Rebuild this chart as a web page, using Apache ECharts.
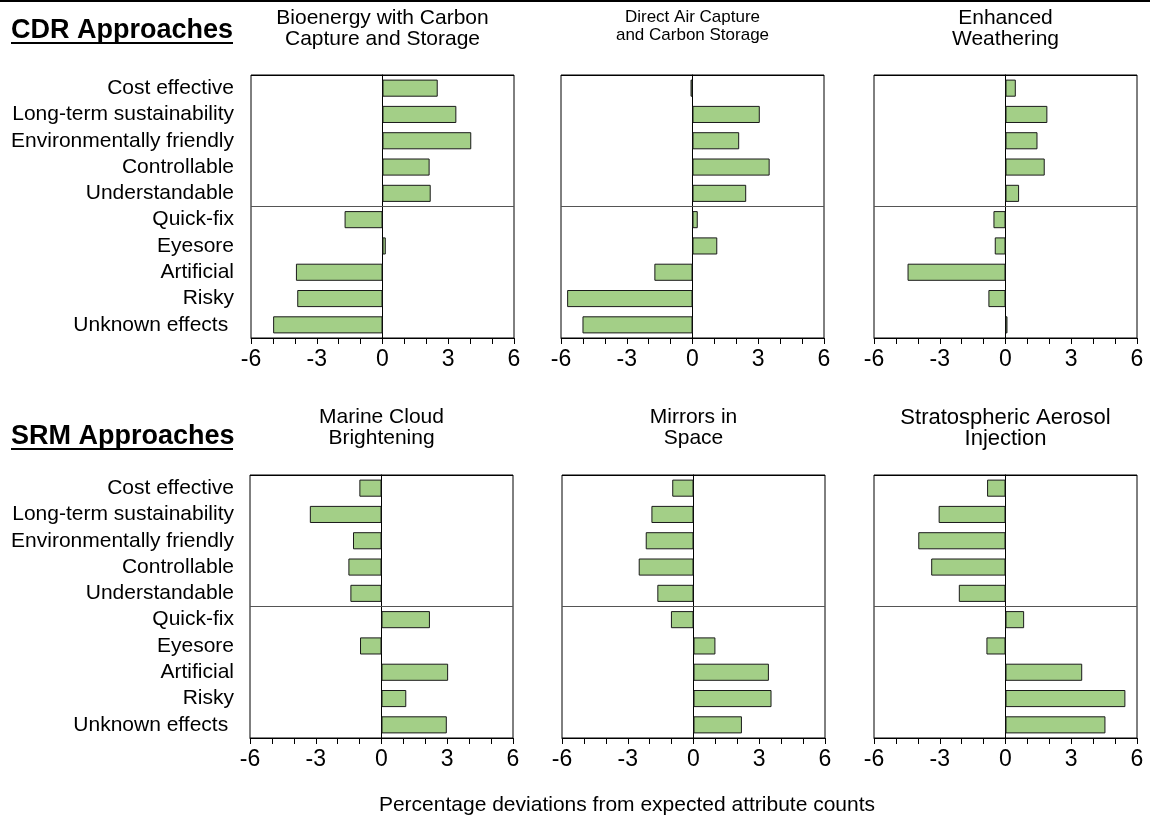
<!DOCTYPE html>
<html>
<head>
<meta charset="utf-8">
<script src="https://cdn.jsdelivr.net/npm/echarts@6/dist/echarts.min.js"></script>
<style>
  html, body { margin: 0; padding: 0; background: #fff; }
  #main { width: 1150px; height: 820px; }
</style>
</head>
<body>
<div id="main"></div>
<script>
// attribute categories (top to bottom)
var categories = ['Cost effective', 'Long-term sustainability', 'Environmentally friendly',
    'Controllable', 'Understandable', 'Quick-fix', 'Eyesore', 'Artificial', 'Risky', 'Unknown effects '];

// CDR approaches
var beccs = [2.52, 3.37, 4.05, 2.15, 2.2, -1.73, 0.15, -3.95, -3.89, -4.99];
var daccs = [-0.09, 3.07, 2.13, 3.52, 2.45, 0.24, 1.13, -1.74, -5.72, -5.02];
var weathering = [0.47, 1.91, 1.46, 1.79, 0.62, -0.55, -0.49, -4.47, -0.78, 0.09];

// SRM approaches
var marineCloud = [-1.01, -3.27, -1.30, -1.51, -1.42, 2.21, -0.98, 3.04, 1.13, 2.98];
var mirrors = [-0.97, -1.92, -2.18, -2.5, -1.65, -1.03, 1.0, 3.44, 3.56, 2.21];
var aerosol = [-0.84, -3.05, -3.98, -3.39, -2.13, 0.85, -0.87, 3.50, 5.47, 4.56];

var xTicks = [-6, -3, 0, 3, 6];

var panelTitles = [
    'Bioenergy with Carbon\nCapture and Storage',
    'Direct Air Capture\nand Carbon Storage',
    'Enhanced\nWeathering',
    'Marine Cloud\nBrightening',
    'Mirrors in\nSpace',
    'Stratospheric Aerosol\nInjection'
];
var titleSizes = [21, 17, 21, 21, 21, 22];
var panelData = [beccs, daccs, weathering, marineCloud, mirrors, aerosol];

var FONT = '"Liberation Sans", Arial, Helvetica, sans-serif';
var lefts = [[251, 561, 874], [250, 562, 874]];
var tops = [75, 475];
var W = 263, H = 263;

var grids = [], xAxes = [], yAxes = [], series = [], graphics = [];

panelData.forEach(function(vals, i) {
    var row = Math.floor(i / 3), col = i % 3;
    var left = lefts[row][col];
    grids.push({
        left: left, top: tops[row], width: W, height: H,
        show: true, borderColor: '#000', borderWidth: 1, backgroundColor: 'transparent'
    });
    xAxes.push({
        type: 'value', gridIndex: i,
        min: xTicks[0], max: xTicks[xTicks.length - 1], interval: xTicks[1] - xTicks[0],
        axisLine: { show: true, onZero: false, lineStyle: { color: '#000', width: 1 } },
        axisTick: { show: true, inside: false, length: 6, lineStyle: { color: '#000' } },
        minorTick: { show: true, splitNumber: 3, length: 6, lineStyle: { color: '#000' } },
        splitLine: { show: false },
        axisLabel: { fontSize: 23, color: '#000', fontFamily: FONT, margin: 10 }
    });
    yAxes.push({
        type: 'category', gridIndex: i, data: categories, inverse: true,
        axisLine: { show: true, onZero: true, lineStyle: { color: '#000', width: 1 } },
        axisTick: { show: false },
        splitLine: { show: false },
        axisLabel: {
            show: col === 0, interval: 0, fontSize: 21, color: '#000', fontFamily: FONT,
            margin: left - 234
        }
    });
    // hidden helper axis: only its split line at the middle separates the two attribute groups
    yAxes.push({
        type: 'value', gridIndex: i, min: 0, max: categories.length, interval: categories.length / 2,
        position: 'right', z: 1,
        axisLine: { show: false }, axisTick: { show: false }, axisLabel: { show: false },
        splitLine: { show: true, lineStyle: { color: ['#000', '#555', '#000'], width: 1 } }
    });
    series.push({
        type: 'bar', xAxisIndex: i, yAxisIndex: i * 2, data: vals,
        barWidth: '65%', z: 3,
        itemStyle: { color: '#a3cf87', borderColor: '#1a1a1a', borderWidth: 1 },
        animation: false
    });
    graphics.push({
        type: 'text', x: left + W / 2, y: row === 0 ? 8 : 407,
        style: {
            text: panelTitles[i], textAlign: 'center', textVerticalAlign: 'top',
            font: titleSizes[i] + 'px ' + FONT, lineHeight: i === 1 ? 18 : 21, fill: '#000'
        }
    });
});

// section headers with underline
[['CDR Approaches', 31], ['SRM Approaches', 437]].forEach(function(h) {
    graphics.push({
        type: 'text', x: 11, y: h[1],
        style: { text: h[0], font: 'bold 27px ' + FONT, textVerticalAlign: 'middle', fill: '#000' }
    });
    graphics.push({
        type: 'rect', shape: { x: 11, y: h[1] + 11, width: 222, height: 2 },
        style: { fill: '#000' }
    });
});

graphics.push({
    type: 'text', x: 627, y: 805,
    style: {
        text: 'Percentage deviations from expected attribute counts',
        textAlign: 'center', textVerticalAlign: 'middle', font: '21px ' + FONT, fill: '#000'
    }
});
graphics.push({
    type: 'rect', shape: { x: 0, y: 0, width: 1150, height: 2 }, style: { fill: '#000' }
});

var chart = echarts.init(document.getElementById('main'));
chart.setOption({
    backgroundColor: '#fff',
    animation: false,
    grid: grids,
    xAxis: xAxes,
    yAxis: yAxes,
    series: series,
    graphic: graphics
});
</script>
</body>
</html>
